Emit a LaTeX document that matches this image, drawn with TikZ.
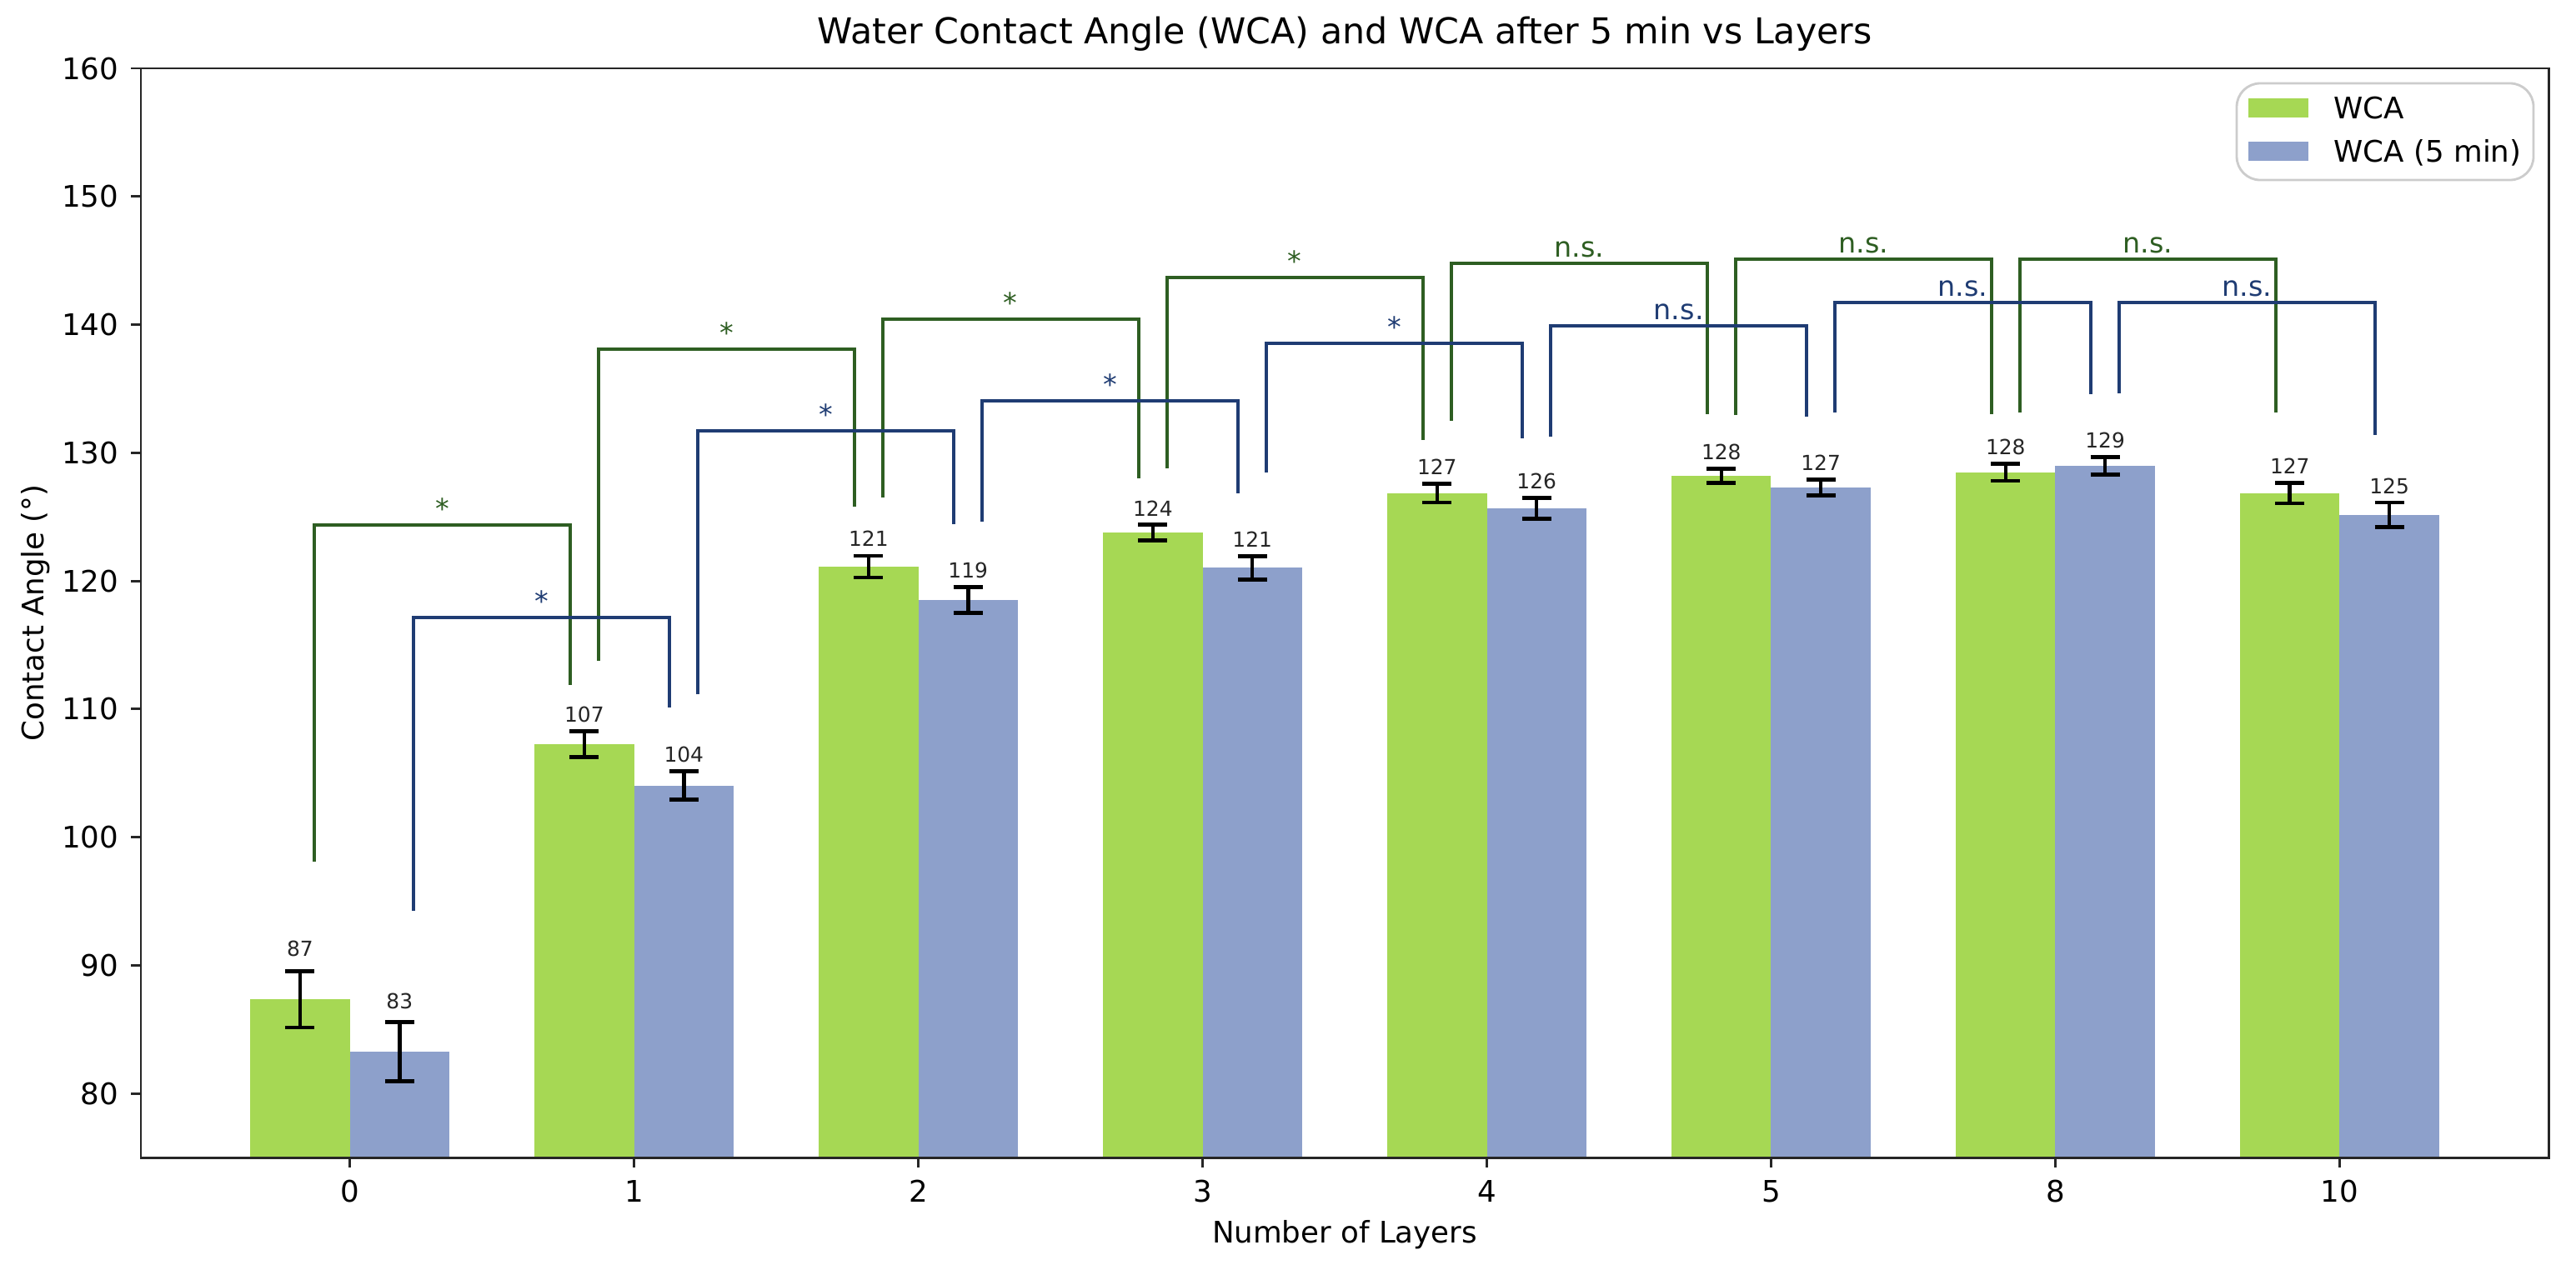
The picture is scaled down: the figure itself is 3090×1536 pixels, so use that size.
\documentclass[tikz,border=0pt]{standalone}
\usepackage{fontspec}
\setmainfont{DejaVu Sans}
\definecolor{barG}{HTML}{A6D854}
\definecolor{barB}{HTML}{8DA0CB}
\definecolor{sigG}{HTML}{2E5E22}
\definecolor{sigB}{HTML}{1F3C73}
\definecolor{legedge}{HTML}{CCCCCC}
\begin{document}
\begin{tikzpicture}[x=0.01cm,y=-0.01cm,
  declare function={xc(\p)=169+(\p+0.735)*340.97; yv(\v)=82+(160-\v)*15.376;},
  ticklab/.style={inner sep=0pt,font=\fontsize{10.13}{12}\selectfont},
  axlab/.style={inner sep=0pt,font=\fontsize{10.13}{12}\selectfont},
  titlab/.style={inner sep=0pt,font=\fontsize{12.16}{14}\selectfont},
  vallab/.style={inner sep=0pt,font=\fontsize{7.08}{8}\selectfont,text=black!85},
  siglab/.style={inner sep=0pt,font=\fontsize{9.5}{11}\selectfont},
  sigline/.style={line width=1.1pt,line join=miter},
  errbar/.style={line width=1.3pt,black},
  axisline/.style={line width=0.85pt,black!85},
  tickmark/.style={line width=0.85pt,black!85}]
\useasboundingbox (0,0) rectangle (3090,1536);
\fill[white] (0,0) rectangle (3090,1536);

% bars, error bars and value labels
\foreach \i/\g/\ge/\b/\be/\gl/\bl/\go/\bo in {
  0/87.35/2.2/83.25/2.3/87/83/27/25,
  1/107.26/1.0/104.03/1.1/107/104/20/20,
  2/121.11/0.85/118.51/1.0/121/119/20/20,
  3/123.77/0.62/121.02/0.92/124/121/19/20,
  4/126.85/0.72/125.66/0.8/127/126/20/20,
  5/128.2/0.54/127.29/0.62/128/127/20/20,
  6/128.48/0.67/128.98/0.68/128/129/20/20,
  7/126.85/0.81/125.16/0.95/127/125/20/20} {
  \fill[barG] ({xc(\i-0.35)},{yv(75)}) rectangle ({xc(\i)},{yv(\g)});
  \fill[barB] ({xc(\i)},{yv(75)}) rectangle ({xc(\i+0.35)},{yv(\b)});
  % green error bar
  \draw[errbar] ({xc(\i-0.175)},{yv(\g-\ge)}) -- ({xc(\i-0.175)},{yv(\g+\ge)});
  \draw[errbar] ({xc(\i-0.175)-17.5},{yv(\g-\ge)}) -- ++(35,0);
  \draw[errbar] ({xc(\i-0.175)-17.5},{yv(\g+\ge)}) -- ++(35,0);
  % blue error bar
  \draw[errbar] ({xc(\i+0.175)},{yv(\b-\be)}) -- ({xc(\i+0.175)},{yv(\b+\be)});
  \draw[errbar] ({xc(\i+0.175)-17.5},{yv(\b-\be)}) -- ++(35,0);
  \draw[errbar] ({xc(\i+0.175)-17.5},{yv(\b+\be)}) -- ++(35,0);
  \node[vallab,anchor=base] (vg\i) at ({xc(\i-0.175)},{yv(\g+\ge)-\go+9}) {\gl};
  \node[vallab,anchor=base] (vb\i) at ({xc(\i+0.175)},{yv(\b+\be)-\bo+9}) {\bl};
}

% significance brackets (WCA)
\foreach \L/\R/\T/\bl/\br/\lab [count=\k] in {
  376.9/683.9/630/1034/822/*,
  717.9/1024.8/419/793/608/*,
  1058.8/1365.8/383/597/574/*,
  1399.8/1706.8/333/562/528/*,
  1740.8/2047.7/316/505/497/n.s.,
  2081.7/2388.7/311/498/497/n.s.,
  2422.7/2729.7/311/495/495/n.s.} {
  \draw[sigline,sigG] (\L,\bl) -- (\L,\T) -- (\R,\T) -- (\R,\br);
  \node[siglab,text=sigG,anchor=base] (sg\k) at ({(\L+\R)/2},{\T-8}) {\lab};
}

% significance brackets (WCA 5 min)
\foreach \L/\R/\T/\bl/\br/\lab [count=\k] in {
  496.3/803.3/741/1093/849/*,
  837.3/1144.3/517/833/629/*,
  1178.3/1485.2/481/626/592/*,
  1519.2/1826.2/412/567/526/*,
  1860.2/2167.2/391/524/500/n.s.,
  2201.2/2508.1/363/495/473/n.s.,
  2542.1/2849.1/363/472/522/n.s.} {
  \draw[sigline,sigB] (\L,\bl) -- (\L,\T) -- (\R,\T) -- (\R,\br);
  \node[siglab,text=sigB,anchor=base] (sb\k) at ({(\L+\R)/2},{\T-8}) {\lab};
}

% axes frame
\draw[axisline] (169,82) rectangle (3057,1389);

% y ticks
\foreach \v in {80,90,...,160} {
  \draw[tickmark] (169,{yv(\v)}) -- ++(-12,0);
  \node[ticklab,anchor=base east] (yt\v) at (143,{yv(\v)+13}) {\v};
}
% x ticks
\foreach \i/\t in {0/0,1/1,2/2,3/3,4/4,5/5,6/8,7/10} {
  \draw[tickmark] ({xc(\i)},1389) -- ++(0,12);
  \node[ticklab,anchor=base] (xt\i) at ({xc(\i)},1442) {\t};
}

% labels and title
\node[titlab,anchor=base] (title) at (1613,52) {Water Contact Angle (WCA) and WCA after 5 min vs Layers};
\node[axlab,anchor=base] (xlabel) at (1613,1491) {Number of Layers};
\node[axlab,rotate=90] (ylabel) at (43,735.5) {Contact Angle (°)};

% legend
\draw[legedge,line width=0.8pt,fill=white,rounded corners=8] (2683,100) rectangle (3039,216);
\fill[barG] (2697,118) rectangle (2769,141);
\fill[barB] (2697,170) rectangle (2769,193);
\node[axlab,anchor=base west] (leg1) at (2799,142) {WCA};
\node[axlab,anchor=base west] (leg2) at (2799,194) {WCA (5 min)};
\end{tikzpicture}
\end{document}
